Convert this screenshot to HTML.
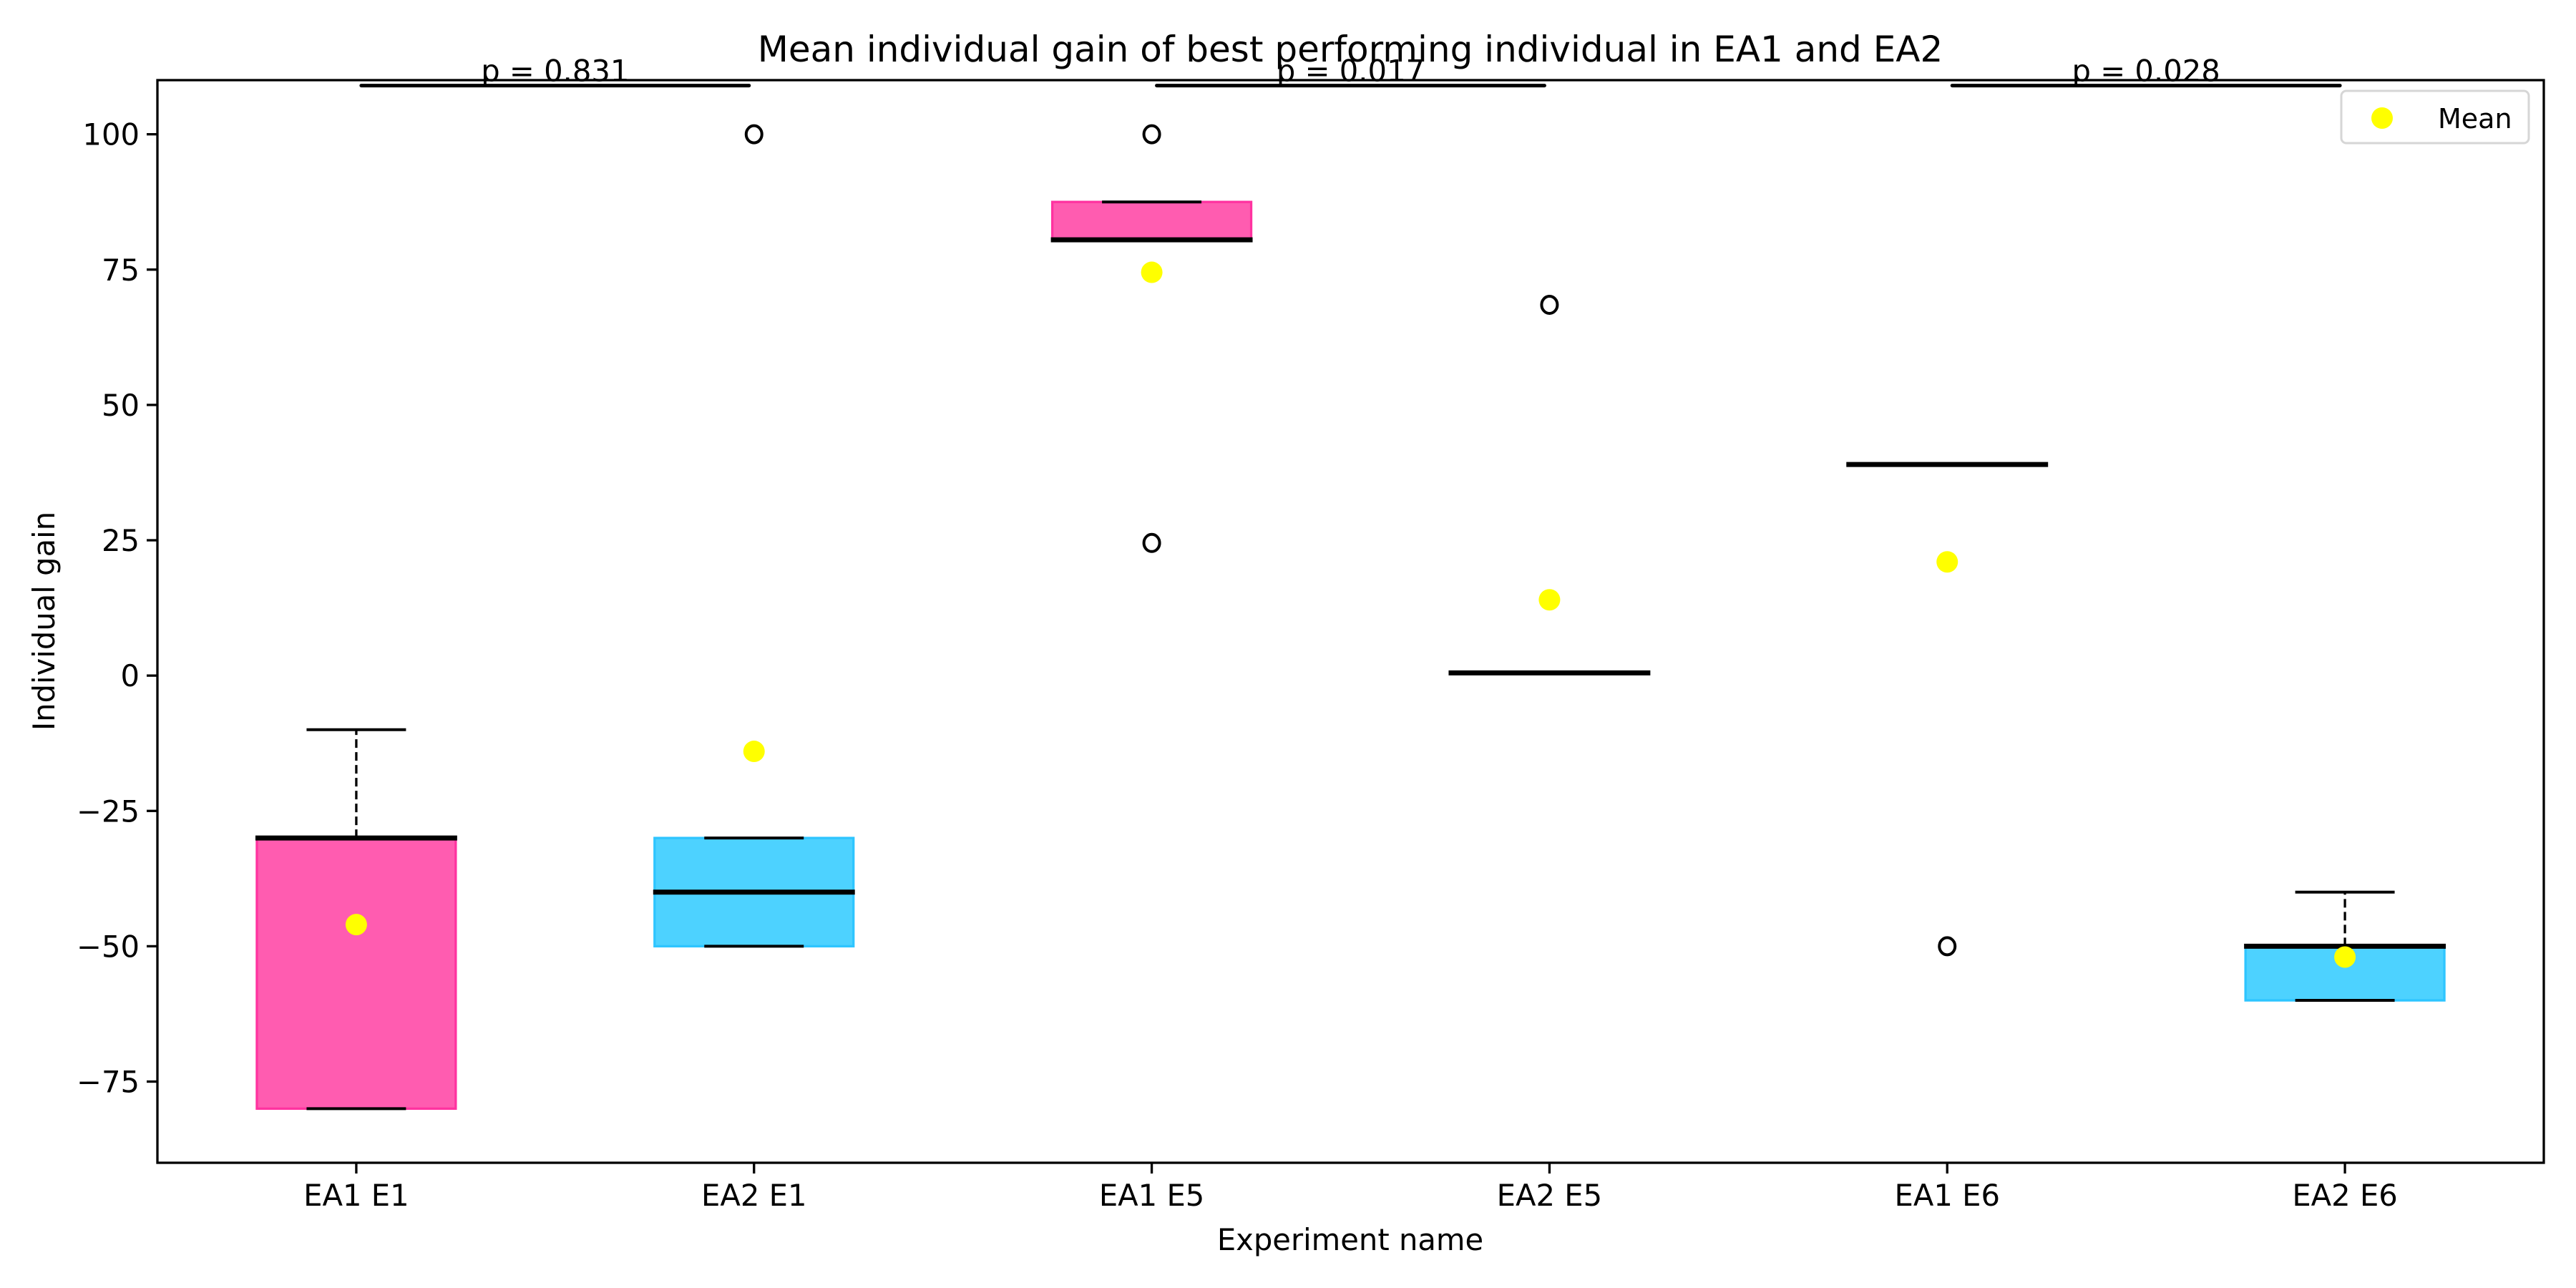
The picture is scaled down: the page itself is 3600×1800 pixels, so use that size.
<!DOCTYPE html>
<html><head><meta charset="utf-8"><style>
html,body{margin:0;padding:0;background:#fff;}
svg{display:block;font-family:"DejaVu Sans","Liberation Sans",sans-serif;}
</style></head><body>
<svg id="chart" width="3600" height="1800" viewBox="0 0 3600 1800" xmlns="http://www.w3.org/2000/svg">
<rect width="3600" height="1800" fill="#fff"/>
<g id="plot"></g>
<text x="1887" y="86" font-size="50" text-anchor="middle">Mean individual gain of best performing individual in EA1 and EA2</text>
<text x="1887" y="1747" font-size="41.7" text-anchor="middle">Experiment name</text>
<text x="76" y="868" font-size="41.7" text-anchor="middle" transform="rotate(-90 76 868)">Individual gain</text>
<g>
<rect x="3272" y="127" width="262" height="73" rx="7" fill="#fff" stroke="#d6d6d6" stroke-width="3"/>
<circle cx="3329" cy="165" r="15" fill="#ffff00"/>
<text x="3407" y="179" font-size="38">Mean</text>
</g>
</svg>
<script>
const categories = ["EA1 E1","EA2 E1","EA1 E5","EA2 E5","EA1 E6","EA2 E6"];
const q1 = [-80,-50,80.5,0.5,39,-60];
const q3 = [-30,-30,87.5,0.5,39,-50];
const medians = [-30,-40,80.5,0.5,39,-50];
const whiskerLow = [-80,-50,80.5,0.5,39,-60];
const whiskerHigh = [-10,-30,87.5,0.5,39,-40];
const means = [-46,-14,74.5,14,21,-52];
const outliers = [[],[100],[100,24.5],[68.5],[-50],[]];
const yTicks = [-75,-50,-25,0,25,50,75,100];
const pairs = [[0,1],[2,3],[4,5]];
const pLabels = ["p = 0.831","p = 0.017","p = 0.028"];
const sigLevel = 109;

const X0=220, X1=3555, Y0=112, Y1=1625, YMIN=-90, YMAX=110;
const xs = i => X0 + (i+0.5)*(X1-X0)/categories.length;
const ys = v => Y1 - (v-YMIN)/(YMAX-YMIN)*(Y1-Y0);
const NS="http://www.w3.org/2000/svg";
const g=document.getElementById('plot');
function el(tag,attrs,parent){const e=document.createElementNS(NS,tag);for(const k in attrs)e.setAttribute(k,attrs[k]);(parent||g).appendChild(e);return e;}
const BW=(X1-X0)/categories.length*0.5;

yTicks.forEach(t=>{
  const y=ys(t);
  const tk=el('line',{x1:X0-15,x2:X0,y1:y,y2:y,stroke:'#000','stroke-width':3.3});
  
  
  const tx=el('text',{x:X0-25,y:y+15,'font-size':41.7,'text-anchor':'end'});
  tx.textContent=(t<0?'\u2212'+(-t):String(t));
  
  
});
categories.forEach((c,i)=>{
  const x=xs(i);
  const tk=el('line',{x1:x,x2:x,y1:Y1,y2:Y1+15,stroke:'#000','stroke-width':3.3});
  
  
  const tx=el('text',{x:x,y:Y1+60,'font-size':41.7,'text-anchor':'middle'});
  tx.textContent=c;
  
  

  const ea1=i%2===0;
  const fill=ea1?'#ff5cb0':'#4dd2ff', edge=ea1?'#ff33a0':'#2ec5ff';
  const bx=el('rect',{x:x-BW/2,y:ys(q3[i]),width:BW,height:Math.max(0.1,ys(q1[i])-ys(q3[i])),fill:fill,stroke:edge,'stroke-width':3.3});
  
  
  if(whiskerHigh[i]>q3[i]){
    const w=el('line',{x1:x,x2:x,y1:ys(q3[i]),y2:ys(whiskerHigh[i]),stroke:'#000','stroke-width':3.3,'stroke-dasharray':'12 6'});
    
    
  }
  if(whiskerLow[i]<q1[i]){
    const w=el('line',{x1:x,x2:x,y1:ys(q1[i]),y2:ys(whiskerLow[i]),stroke:'#000','stroke-width':3.3,'stroke-dasharray':'12 6'});
    
    
  }
  [whiskerLow[i],whiskerHigh[i]].forEach(v=>{
    const cp=el('line',{x1:x-BW/4,x2:x+BW/4,y1:ys(v),y2:ys(v),stroke:'#000','stroke-width':4});
    
    
  });
  const md=el('line',{x1:x-BW/2-2,x2:x+BW/2+2,y1:ys(medians[i]),y2:ys(medians[i]),stroke:'#000','stroke-width':7});
  
  
  outliers[i].forEach(v=>{
    const o=el('ellipse',{cx:x,cy:ys(v),rx:11,ry:12,fill:'none',stroke:'#000','stroke-width':4});
    
    
  });
  const mn=el('circle',{cx:x,cy:ys(means[i]),r:15,fill:'#ffff00'});
  
  
});
pairs.forEach((p,k)=>{
  const xa=xs(p[0])+7, xb=xs(p[1])-7, y=ys(sigLevel);
  const ln=el('line',{x1:xa,x2:xb,y1:y,y2:y,stroke:'#000','stroke-width':5,'stroke-linecap':'round'});
  
  
  const tx=el('text',{x:(xa+xb)/2,y:y-6,'font-size':41.7,'text-anchor':'middle'});
  tx.textContent=pLabels[k];
  
  
});
const fr=el('rect',{x:X0,y:Y0,width:X1-X0,height:Y1-Y0,fill:'none',stroke:'#000','stroke-width':3.3});


</script>
</body></html>
